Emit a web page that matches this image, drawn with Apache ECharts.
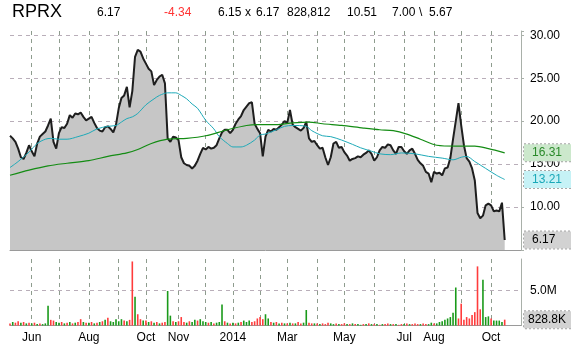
<!DOCTYPE html>
<html><head><meta charset="utf-8">
<script src="https://cdn.jsdelivr.net/npm/echarts@6/dist/echarts.min.js"></script>
<style>html,body{margin:0;padding:0;background:#fff;}#c{width:571px;height:349px;}</style>
</head><body><div id="c"></div>
<script>
// ---- categories: month buckets (each slot ~2 trading days) ----
const monthNames  = ['May13','Jun13','Jul13','Aug13','Sep13','Oct13','Nov13','Dec13','Jan14','Feb14','Mar14','Apr14','May14','Jun14','Jul14','Aug14','Sep14','Oct14'];
const monthSlots  = [8,10,11,11,10,12,10,10,10,10,11,10,11,11,11,10,11,12];
const monthLabels = ['', 'Jun', '', 'Aug', '', 'Oct', 'Nov', '', '2014', '', 'Mar', '', 'May', '', 'Jul', 'Aug', '', 'Oct'];

// ---- close price ----
const price = [
  18.3,18.0,17.6,16.8,15.8,15.6,16.3,17.2,16.5,15.9,
  17.4,18.2,18.5,18.8,19.5,20.3,17.6,16.8,18.6,19.3,
  19.2,19.7,20.7,20.4,20.9,20.8,21.0,20.5,20.1,20.3,
  20.5,19.8,19.2,18.9,18.8,19.3,19.4,19.1,18.7,19.6,
  21.5,22.7,23.0,24.0,21.6,23.5,27.5,28.3,28.1,27.3,
  26.7,26.1,25.8,24.2,24.8,25.2,25.4,24.4,18.0,17.6,
  18.2,18.1,17.8,15.8,15.1,14.9,14.8,14.5,14.8,15.4,
  16.2,16.9,16.7,17.0,16.8,16.9,17.2,18.0,18.7,19.0,
  19.0,18.6,19.0,19.7,20.2,20.6,21.3,21.7,22.1,22.2,
  19.7,19.1,18.6,15.9,18.2,19.0,18.8,19.1,19.0,19.3,
  19.6,20.0,19.8,21.3,19.6,19.3,19.1,18.9,19.2,19.9,
  18.0,17.6,17.7,17.2,16.8,16.9,15.8,14.9,15.8,17.4,
  17.6,16.9,17.0,16.4,16.0,15.4,15.6,15.7,15.9,15.8,
  16.1,16.3,16.6,16.2,15.4,15.8,16.6,17.0,16.9,17.3,
  17.2,16.6,16.2,17.0,17.0,16.5,16.2,16.6,16.8,16.2,
  15.5,15.1,14.8,14.1,13.9,12.9,14.1,13.9,14.0,13.7,
  14.5,14.6,15.7,17.9,20.0,22.1,19.5,17.2,15.7,15.3,
  14.5,13.1,9.3,8.7,9.0,10.2,10.4,10.2,9.5,9.6,
  9.5,10.51,6.17
];

// ---- moving averages [slotIndex, value] ----
const ma50 = [[0,14.6],[3,15.3],[7,16.4],[10,17.4],[13,17.9],[15,18.0],[18,17.9],[21,17.9],[25,18.2],[29,18.6],[32,19.1],[36,19.4],[39,19.5],[41,19.9],[43,20.3],[45,20.5],[47,20.9],[50,21.9],[53,22.6],[55,23.0],[58,23.3],[61,23.3],[63,23.0],[65,22.6],[67,22.0],[69,21.5],[72,20.1],[75,19.1],[77,18.2],[80,17.4],[82,17.0],[85,17.0],[87,17.2],[90,17.8],[92,18.4],[94,18.5],[98,19.0],[101,19.4],[104,19.5],[109,19.4],[111,18.9],[115,18.3],[118,18.2],[122,17.8],[126,17.3],[129,16.9],[133,16.5],[136,16.2],[140,16.1],[144,16.3],[149,16.2],[154,15.9],[159,15.7],[163,15.5],[166,15.8],[168,15.9],[171,15.3],[175,14.5],[179,13.7],[182,13.21]];
const ma200 = [[0,13.7],[7,14.3],[14,14.8],[21,15.1],[29,15.4],[36,15.9],[43,16.3],[47,16.7],[52,17.4],[58,17.9],[65,18.0],[72,18.3],[80,19.0],[87,19.5],[91,19.6],[98,19.6],[104,19.8],[110,19.9],[115,19.7],[122,19.5],[130,19.2],[136,19.0],[141,18.9],[146,18.5],[151,17.9],[157,17.2],[164,17.1],[171,17.1],[176,16.8],[182,16.31]];

// ---- volume (millions) and bar direction ----
const volume = [
  0.3,0.5,0.4,0.6,0.4,0.5,0.3,0.4,
  0.3,0.4,0.2,0.3,0.2,0.3,2.8,0.8,0.7,0.5,
  0.4,0.5,0.3,0.4,0.5,0.3,0.4,0.5,0.9,0.5,0.4,
  0.4,0.5,0.3,0.4,0.5,0.6,0.8,1.1,0.6,0.5,0.9,
  0.6,0.9,0.7,0.6,0.8,9.1,4.1,1.6,0.9,0.7,
  0.7,0.5,0.6,0.4,0.5,0.3,0.4,0.5,4.9,1.4,0.6,0.5,
  0.6,1.2,0.5,0.4,0.6,0.5,0.8,0.7,0.9,0.6,
  0.5,0.4,0.5,0.3,0.4,0.5,3.0,0.6,0.4,0.3,
  0.4,0.3,0.4,0.5,0.7,0.5,0.7,0.5,0.6,1.0,
  1.2,0.9,1.6,1.0,0.5,0.4,0.5,0.3,0.4,0.3,
  0.3,0.4,0.3,0.3,0.5,0.3,0.4,2.2,0.4,0.3,0.3,
  0.3,0.2,0.3,0.2,0.4,0.3,0.2,0.3,0.2,0.2,
  0.3,0.2,0.2,0.3,0.2,0.2,0.1,0.2,0.2,0.3,0.2,
  0.2,0.2,0.1,0.2,0.2,0.3,0.2,0.2,0.2,0.1,0.2,
  0.2,0.3,0.2,0.2,0.3,0.2,0.2,0.3,0.2,0.2,0.4,
  0.3,0.3,0.5,0.6,0.8,1.0,1.2,1.8,5.4,1.0,
  3.1,0.8,1.2,1.0,1.5,1.9,8.4,2.3,6.5,1.2,1.3,
  1.0,0.7,0.7,0.7,0.5,0.8288
];
const volDir = ('rgrrgrgr'+'grgrgggrrg'+'grgrgrgrrgr'+'grgrgrgrggg'+'ggrgrrgrrg'+'rgrgrgrrggrg'+
  'rrrgrggrgg'+'grgrgggrgr'+'grgrgggrrr'+'rrggrgrgrg'+'rgrgrrggrrg'+'rgrrrggrgr'+'rgrgrggrgrg'+
  'rgrgrrgrgrr'+'grgrrrgrrgg'+'rggggggggr'+'rrrrrrrrggg'+'rggggr').split('');

// header values
const header = {sym:'RPRX', last:'6.17', chg:'-4.34', bid:'6.15', ask:'6.17', vol:'828,812', prev:'10.51', hi:'7.00', lo:'5.67'};

// ---- build category axis ----
const categories = [];
const monthStart = {};
monthNames.forEach((m, mi) => {
  for (let k = 0; k < monthSlots[mi]; k++) {
    if (k === 0) monthStart[categories.length] = mi;
    categories.push(m + '-' + k);
  }
});

const gridColH = '#b9aeb9';
const gridColV = '#8e9c8e';
const badge = (bg, fg) => ({
  show: true, position: 'end', distance: 3,
  backgroundColor: bg, color: fg, borderColor: '#a8a8a8', borderWidth: 1, borderType: 'dotted',
  padding: [2, 4, 2, 8], width: 35, fontSize: 12, lineHeight: 13, fontFamily: 'Liberation Sans', align: 'left'
});
const markAt = (val, lbl, text) => ({
  symbol: 'none', silent: true, animation: false,
  lineStyle: {color: 'rgba(0,0,0,0)', width: 1, type: 'solid'},
  label: Object.assign(lbl, {formatter: () => text}),
  emphasis: {disabled: true},
  data: [{yAxis: val}]
});

const xCommon = {
  type: 'category', data: categories, boundaryGap: false,
  axisTick: {show: false},
  axisLine: {show: true, lineStyle: {color: '#9a9a9a', width: 1}},
  splitLine: {show: true, interval: (i) => i > 0 && monthStart[i] !== undefined,
    lineStyle: {color: gridColV, type: [4, 4], width: 1}}
};

const chart = echarts.init(document.getElementById('c'), null, {renderer: 'canvas'});
const txt = (t, left, top, size, color) => ({type: 'text', left, top,
  style: {text: t, fill: color || '#000', fontSize: size, fontFamily: 'Liberation Sans'}});

const lastPrice = price[price.length - 1];
const lastMa50 = ma50[ma50.length - 1][1];
const lastMa200 = ma200[ma200.length - 1][1];
const lastVol = volume[volume.length - 1];

chart.setOption({
  animation: false,
  backgroundColor: '#ffffff',
  graphic: [
    txt(header.sym, 12, 3, 18),
    txt(header.last, 97, 7, 12),
    txt(header.chg, 164, 7, 12, '#ff3333'),
    txt(header.bid, 218, 7, 12),
    txt('x', 245, 7, 12),
    txt(header.ask, 256, 7, 12),
    txt(header.vol, 287, 7, 12),
    txt(header.prev, 347, 7, 12),
    txt(header.hi, 392, 7, 12),
    txt('\\', 419, 7, 12),
    txt(header.lo, 429, 7, 12)
  ],
  grid: [
    {left: 10, right: 50, top: 31, height: 219},
    {left: 10, right: 50, top: 259, height: 66.5}
  ],
  xAxis: [
    Object.assign({}, xCommon, {gridIndex: 0, axisLabel: {show: false}}),
    Object.assign({}, xCommon, {gridIndex: 1,
      axisLabel: {show: true, interval: (i) => monthStart[i] !== undefined && monthLabels[monthStart[i]] !== '',
        formatter: (v, i) => monthLabels[monthStart[i]] || '',
        color: '#000', fontSize: 12, fontFamily: 'Liberation Sans', margin: 6}})
  ],
  yAxis: [
    {type: 'value', gridIndex: 0, position: 'right', min: 5, max: 30.5, interval: 5,
      axisLine: {show: true, lineStyle: {color: '#a9b0a9'}},
      axisTick: {show: true, length: 3, lineStyle: {color: '#a9b0a9'}},
      axisLabel: {color: '#000', fontSize: 12, fontFamily: 'Liberation Sans', margin: 9,
        formatter: (v) => (v % 5 === 0 && v >= 10 && v <= 30) ? v.toFixed(2) : ''},
      splitLine: {show: true, lineStyle: {type: [4, 4], width: 1,
        color: ['transparent', gridColH, gridColH, gridColH, gridColH, gridColH, 'transparent']}}},
    {type: 'value', gridIndex: 1, position: 'right', min: 0, max: 9.45, interval: 5,
      axisLine: {show: true, lineStyle: {color: '#a9b0a9'}},
      axisTick: {show: false},
      axisLabel: {color: '#000', fontSize: 12, fontFamily: 'Liberation Sans', margin: 9,
        formatter: (v) => v === 5 ? '5.0M' : ''},
      splitLine: {show: true, lineStyle: {type: [4, 4], width: 1,
        color: ['transparent', gridColH, 'transparent']}}}
  ],
  series: [
    {type: 'line', name: 'price', xAxisIndex: 0, yAxisIndex: 0, data: price, symbol: 'none', clip: false,
      lineStyle: {color: '#1e1e1e', width: 2}, areaStyle: {color: '#c6c6c6', opacity: 1, origin: 'start'},
      z: 2,
      markLine: markAt(lastPrice, badge('#d2d2d2', '#000'), lastPrice.toFixed(2))},
    {type: 'line', name: 'ma50', xAxisIndex: 0, yAxisIndex: 0, data: ma50, symbol: 'none', smooth: 0.3, clip: false,
      lineStyle: {color: '#1eaab8', width: 1}, z: 3,
      markLine: markAt(lastMa50, badge('#c6f2f6', '#1aa8b8'), lastMa50.toFixed(2))},
    {type: 'line', name: 'ma200', xAxisIndex: 0, yAxisIndex: 0, data: ma200, symbol: 'none', smooth: 0.3, clip: false,
      lineStyle: {color: '#148c14', width: 1.2}, z: 3,
      markLine: markAt(lastMa200, badge('#cce8cc', '#2a8a2a'), lastMa200.toFixed(2))},
    {type: 'bar', name: 'volume', xAxisIndex: 1, yAxisIndex: 1, data: volume, barWidth: 1.6, clip: false,
      itemStyle: {color: (p) => volDir[p.dataIndex] === 'g' ? '#1a9a1a' : '#ff3c3c'},
      markLine: markAt(lastVol, Object.assign(badge('#d2d2d2', '#000'), {padding: [2, 2, 2, 4], width: 41}),
        (lastVol * 1000).toFixed(1) + 'K')}
  ]
});
</script></body></html>
